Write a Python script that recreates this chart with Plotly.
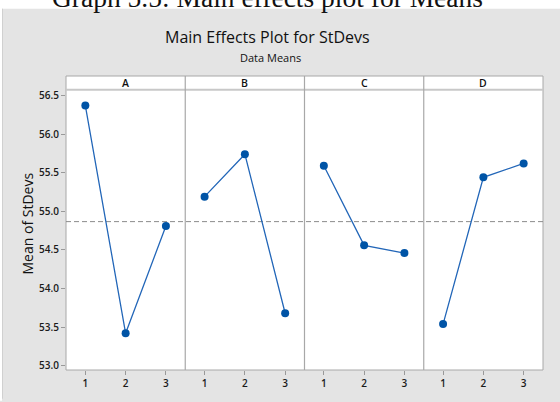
import plotly.graph_objects as go
from plotly.subplots import make_subplots

factors = ["A", "B", "C", "D"]
levels = [1, 2, 3]
means_A = [56.37, 53.42, 54.81]
means_B = [55.19, 55.74, 53.68]
means_C = [55.59, 54.56, 54.46]
means_D = [53.54, 55.44, 55.62]
all_means = [means_A, means_B, means_C, means_D]
grand_mean = sum(means_A) / 3.0
y_ticks = [53.0, 53.5, 54.0, 54.5, 55.0, 55.5, 56.0, 56.5]

W, H = 560, 402
ML, MR, MT, MB = 66, 17, 76, 29
PW = W - ML - MR
PH = H - MT - MB
header_px = 14
ydom_top = (PH - header_px) / PH

def px_x(p):
    return (p - ML) / PW

def px_y(p):
    return (H - MB - p) / PH

fig = make_subplots(rows=1, cols=4, shared_yaxes=True, horizontal_spacing=0)

line_col = "#2266b8"
mark_col = "#0054a6"
tick_font = dict(family="Open Sans", size=10, color="#1a1a1a", weight=600)

for i, vals in enumerate(all_means):
    fig.add_trace(go.Scatter(x=levels, y=vals, mode="lines+markers",
                             line=dict(color=line_col, width=1.3),
                             marker=dict(color=mark_col, size=8),
                             showlegend=False, hoverinfo="skip"),
                  row=1, col=i + 1)
    fig.update_xaxes(range=[0.52, 3.48], tickvals=levels, ticktext=[str(v) for v in levels],
                     ticks="outside", ticklen=4, tickcolor="#999999", tickwidth=1,
                     showgrid=False, zeroline=False, showline=False,
                     tickfont=tick_font, domain=[i / 4, (i + 1) / 4],
                     row=1, col=i + 1)

fig.update_yaxes(range=[52.945, 56.573], tickvals=y_ticks,
                 ticktext=[f"{v:.1f}" for v in y_ticks],
                 ticks="outside", ticklen=4, tickcolor="#999999", tickwidth=1,
                 showgrid=False, zeroline=False, showline=False,
                 tickfont=tick_font, domain=[0, ydom_top], row=1, col=1)
for c in range(2, 5):
    fig.update_yaxes(range=[52.945, 56.573], domain=[0, ydom_top], showgrid=False,
                     zeroline=False, row=1, col=c)

shapes = []
# white top strip and left strip
shapes.append(dict(type="rect", xref="paper", yref="paper", x0=px_x(0), x1=px_x(W + 2),
                   y0=px_y(8), y1=px_y(-5), fillcolor="white", line=dict(width=0), layer="below"))
shapes.append(dict(type="rect", xref="paper", yref="paper", x0=px_x(-2), x1=px_x(2),
                   y0=px_y(H + 2), y1=px_y(-5), fillcolor="white", line=dict(width=0), layer="below"))
shapes.append(dict(type="line", xref="paper", yref="paper", x0=px_x(2.5), x1=px_x(2.5),
                   y0=px_y(H), y1=px_y(8), line=dict(color="#d0d0d0", width=1), layer="below"))
# plot area
shapes.append(dict(type="rect", xref="paper", yref="paper", x0=0, x1=1, y0=0, y1=1,
                   fillcolor="white", line=dict(color="#a8a8a8", width=1), layer="below"))
# header bottom line
shapes.append(dict(type="line", xref="paper", yref="paper", x0=0, x1=1, y0=ydom_top, y1=ydom_top,
                   line=dict(color="#c8c8c8", width=2)))
# dividers
for i in range(1, 4):
    shapes.append(dict(type="line", xref="paper", yref="paper", x0=i / 4, x1=i / 4, y0=0, y1=1,
                       line=dict(color="#a8a8a8", width=1.2)))
# grand mean reference line
shapes.append(dict(type="line", xref="paper", yref="y", x0=0, x1=1, y0=grand_mean, y1=grand_mean,
                   line=dict(color="#8c8c8c", width=1, dash="5px,3px"), layer="below"))

annotations = []
for i, f in enumerate(factors):
    annotations.append(dict(text=f, xref="paper", yref="paper", x=(i + 0.5) / 4,
                            y=(ydom_top + 1) / 2, showarrow=False, xanchor="center", yanchor="middle",
                            font=dict(family="Open Sans", size=10.5, color="#111111", weight=600)))
annotations.append(dict(text="Main Effects Plot for StDevs", xref="paper", yref="paper",
                        x=px_x(267), y=px_y(37), showarrow=False, xanchor="center", yanchor="middle",
                        font=dict(family="Open Sans", size=16, color="#111111")))
annotations.append(dict(text="Data Means", xref="paper", yref="paper",
                        x=px_x(270), y=px_y(57), showarrow=False, xanchor="center", yanchor="middle",
                        font=dict(family="Open Sans", size=11, color="#111111")))
annotations.append(dict(text="Mean of StDevs", xref="paper", yref="paper",
                        x=px_x(27), y=px_y(225), showarrow=False, xanchor="center", yanchor="middle",
                        textangle=-90,
                        font=dict(family="Open Sans", size=14, color="#111111")))
annotations.append(dict(text="Graph 5.5: Main effects plot for Means", xref="paper", yref="paper",
                        x=px_x(267), y=px_y(-3.5), showarrow=False, xanchor="center", yanchor="middle",
                        font=dict(family="Liberation Serif", size=27.5, color="#111111")))

fig.update_layout(width=W, height=H, margin=dict(l=ML, r=MR, t=MT, b=MB),
                  paper_bgcolor="#e4e4e4", plot_bgcolor="white",
                  shapes=shapes, annotations=annotations)

fig.write_html("out.html", config={"displayModeBar": False},
               post_script="document.body.style.margin='0px';document.body.style.padding='0px';")
